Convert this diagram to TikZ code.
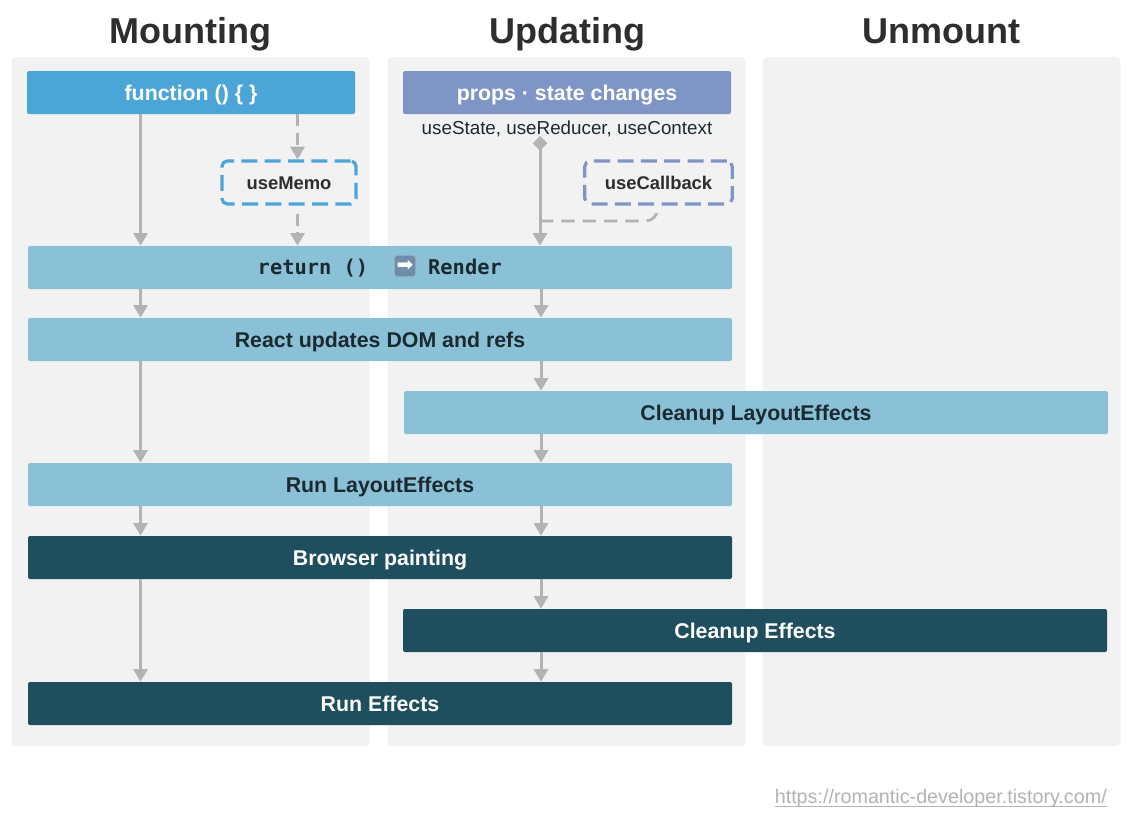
\documentclass[tikz,border=0pt]{standalone}
\usepackage{fontspec}
\setmainfont{Liberation Sans}
\newfontfamily\codefont{DejaVu Sans Mono}
\newfontfamily\symbolfont{DejaVu Sans}
\usetikzlibrary{arrows.meta}
\definecolor{panelgray}{HTML}{F2F2F2}
\definecolor{flowgray}{HTML}{B3B3B3}
\definecolor{funcblue}{HTML}{4BA5D6}
\definecolor{propsblue}{HTML}{7F95C6}
\definecolor{lightbar}{HTML}{8BC1D7}
\definecolor{darkbar}{HTML}{1F4E5F}
\definecolor{inkdark}{HTML}{2E2E2E}
\definecolor{inkbar}{HTML}{1B2A30}
\definecolor{emojibox}{HTML}{6F8CA8}
\tikzset{
	panel/.style={fill=panelgray, rounded corners=3.5pt, minimum width=268.5pt, minimum height=516.75pt},
	title/.style={font=\bfseries\fontsize{27}{27}\selectfont, text=inkdark, text height=19.5pt, text depth=1.5pt},
	bar/.style={rounded corners=1.5pt, minimum height=32.25pt, text height=13pt, text depth=1.5pt, font=\bfseries\fontsize{16}{17}\selectfont},
	shortbar/.style={bar, minimum width=246pt, text=white},
	longbar/.style={bar, minimum width=528pt},
	lightone/.style={longbar, fill=lightbar, text=inkbar},
	darkone/.style={longbar, fill=darkbar, text=white},
	hook/.style={draw, line width=2.4pt, dash pattern=on 12pt off 5.5pt, rounded corners=4pt, minimum height=32.25pt, text height=12pt, text depth=1.5pt, text=inkdark, font=\bfseries\fontsize{13.8}{15}\selectfont},
	code/.style={font=\codefont\bfseries\fontsize{15.3}{16}\selectfont, text=inkbar, text height=12.5pt, text depth=2.5pt},
	flow/.style={draw=flowgray, line width=2.25pt, -{Triangle[width=10.5pt,length=9.5pt]}},
	dashflow/.style={flow, dash pattern=on 9pt off 5pt}
}
\begin{document}
\begin{tikzpicture}[x=.75pt, y=-.75pt]
	\useasboundingbox (0,0) rectangle (1131,814);
	\fill[white] (0,0) rectangle (1131,814);
	% columns
	\node[panel] (mountpanel) at (190.5,401.5){};
	\node[panel] (updatepanel) at (566.5,401.5){};
	\node[panel] (unmountpanel) at (941.5,401.5){};
	\node[title] (mounttitle) at (190,31.5){Mounting};
	\node[title] (updatetitle) at (567,31.5){Updating};
	\node[title] (unmounttitle) at (941,31.5){Unmount};
	% bars
	\node[shortbar, fill=funcblue] (func) at (191,92.5){function () \{ \}};
	\node[shortbar, fill=propsblue] (props) at (567,92.5){props · state changes};
	\node[font=\fontsize{14.1}{15}\selectfont, text=inkbar, text height=10pt, text depth=3pt] (hooks) at (567,130){useState, useReducer, useContext};
	\node[hook, draw=funcblue, minimum width=100.5pt] (memo) at (289,182.5){useMemo};
	\node[hook, draw=propsblue, minimum width=110.5pt] (callback) at (658.5,182.5){useCallback};
	\node[lightone] (render) at (380,267.5){};
	\node[code] (returntext) at (313,267.5){return ()};
	\node[rounded corners=2.5pt, draw=emojibox!70!white, line width=.5pt, fill=emojibox, text=white, inner sep=0pt, minimum width=16pt, minimum height=16pt, font=\symbolfont\fontsize{15}{15}\selectfont] (emoji) at (405,266){➡};
	\node[code] (rendertext) at (465,267.5){Render};
	\node[lightone] (dom) at (380,339.5){React updates DOM and refs};
	\node[lightone] (cleanlayout) at (756,412.5){Cleanup LayoutEffects};
	\node[lightone] (runlayout) at (380,484.5){Run LayoutEffects};
	\node[darkone] (paint) at (380,557.5){Browser painting};
	\node[darkone] (cleaneffects) at (755,630.5){Cleanup Effects};
	\node[darkone] (runeffects) at (380,703.5){Run Effects};
	\node[anchor=base east, inner sep=0pt, text=flowgray, font=\fontsize{14.8}{15}\selectfont] (link) at (1107,803){https://romantic-developer.tistory.com/};
	\draw[flowgray, line width=.9pt] ([yshift=-2.6pt]link.base west) -- ([yshift=-2.6pt]link.base east);
	% where the arrows run
	\coordinate (m) at (140.5,0);
	\coordinate (n) at (297.5,0);
	\coordinate (u) at (541,0);
	\coordinate (start) at (540,136);
	\coordinate (join) at (540,221);
	\coordinate (callbackout) at (657.5,205);
	% mounting side
	\draw[flow] (func.south -| m) -- (render.north -| m);
	\draw[dashflow] (func.south -| n) -- (memo.north -| n);
	\draw[dashflow] ([yshift=-6pt]memo.south -| n) -- (render.north -| n);
	\draw[flow] (render.south -| m) -- (dom.north -| m);
	\draw[flow] (dom.south -| m) -- (runlayout.north -| m);
	\draw[flow] (runlayout.south -| m) -- (paint.north -| m);
	\draw[flow] (paint.south -| m) -- (runeffects.north -| m);
	% updating side
	\draw[flow, {Diamond[width=11pt,length=11pt]}-{Triangle[width=10.5pt,length=9.5pt]}] (start) -- (render.north -| start);
	\draw[draw=flowgray, line width=2.1pt, dash pattern=on 10pt off 6pt, rounded corners=9pt] (join) -- (callbackout |- join) -- (callbackout);
	\draw[flow] (render.south -| u) -- (dom.north -| u);
	\draw[flow] (dom.south -| u) -- (cleanlayout.north -| u);
	\draw[flow] (cleanlayout.south -| u) -- (runlayout.north -| u);
	\draw[flow] (runlayout.south -| u) -- (paint.north -| u);
	\draw[flow] (paint.south -| u) -- (cleaneffects.north -| u);
	\draw[flow] (cleaneffects.south -| u) -- (runeffects.north -| u);
\end{tikzpicture}
\end{document}
